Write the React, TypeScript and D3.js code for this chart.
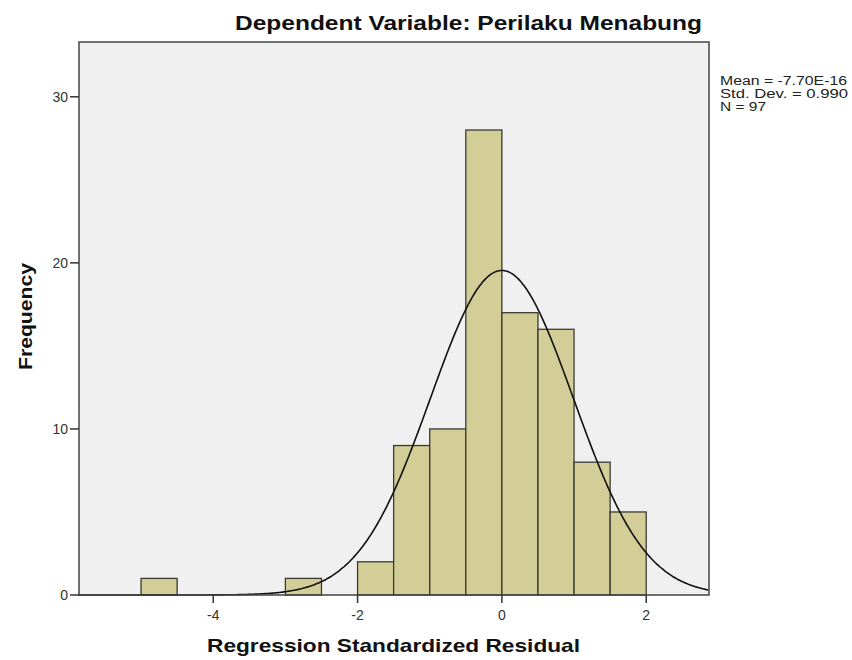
import React from "react";
import * as d3 from "d3";

const binStarts = [-5, -4.5, -4, -3.5, -3, -2.5, -2, -1.5, -1, -0.5, 0, 0.5, 1, 1.5];
const counts = [1, 0, 0, 0, 1, 0, 2, 9, 10, 28, 17, 16, 8, 5];
const binWidth = 0.5;
const xTicks = [-4, -2, 0, 2];
const yTicks = [0, 10, 20, 30];
const meanVal = -7.7e-16;
const sdVal = 0.99;
const nVal = 97;
const statLines = ["Mean = -7.70E-16", "Std. Dev. = 0.990", "N = 97"];
const statWidths = [127, 128, 46];

const W = 852;
const H = 660;
const L = 79, R = 709, T = 42, B = 595;

export default function App() {
  const x = d3.scaleLinear().domain([-5.86, 2.87]).range([L, R]);
  const y = d3.scaleLinear().domain([0, 33.3]).range([B, T]);
  const pdf = (v: number) =>
    (nVal * binWidth) / (sdVal * Math.sqrt(2 * Math.PI)) *
    Math.exp(-0.5 * Math.pow((v - meanVal) / sdVal, 2));
  const xs = d3.range(-5.86, 2.8701, 0.02);
  const line = d3.line<number>().x((d) => x(d)).y((d) => y(pdf(d))).curve(d3.curveBasis);
  const font = "Arial, 'Liberation Sans', sans-serif";
  return (
    <svg width={W} height={H} style={{ position: "absolute", left: 0, top: 0, background: "#fff" }} fontFamily={font}>
      <rect x={L} y={T} width={R - L} height={B - T} fill="#f0f0f0" stroke="none" />
      {binStarts.map((s, i) =>
        counts[i] > 0 ? (
          <rect key={i} x={x(s)} y={y(counts[i])} width={x(s + binWidth) - x(s)} height={B - y(counts[i])}
            fill="#d3cd97" stroke="#3a3a32" strokeWidth={1.3} />
        ) : null
      )}
      <path d={line(xs) || ""} fill="none" stroke="#111" strokeWidth={1.6} />
      <rect x={L} y={T} width={R - L} height={B - T} fill="none" stroke="#444" strokeWidth={1.5} />
      {yTicks.map((t) => (
        <g key={t}>
          <line x1={L - 9} x2={L} y1={y(t)} y2={y(t)} stroke="#333" strokeWidth={1.5} />
          <text x={L - 11} y={y(t) + 5} textAnchor="end" fontSize={14} fill="#333">{t}</text>
        </g>
      ))}
      {xTicks.map((t) => (
        <g key={t}>
          <line x1={x(t)} x2={x(t)} y1={B} y2={B + 8} stroke="#333" strokeWidth={1.5} />
          <text x={x(t)} y={B + 25} textAnchor="middle" fontSize={14} fill="#333">{t}</text>
        </g>
      ))}
      <text x={235} y={30} fontSize={21} fontWeight="bold" fill="#111" textLength={467} lengthAdjust="spacingAndGlyphs">
        Dependent Variable: Perilaku Menabung
      </text>
      <text x={207} y={652} fontSize={19} fontWeight="bold" fill="#111" textLength={373} lengthAdjust="spacingAndGlyphs">
        Regression Standardized Residual
      </text>
      <text transform={`translate(32, 370) rotate(-90)`} fontSize={19} fontWeight="bold" fill="#111" textLength={107} lengthAdjust="spacingAndGlyphs">
        Frequency
      </text>
      {statLines.map((s, i) => (
        <text key={i} x={720} y={85 + i * 13} fontSize={12} fill="#222" textLength={statWidths[i]} lengthAdjust="spacingAndGlyphs">{s}</text>
      ))}
    </svg>
  );
}
